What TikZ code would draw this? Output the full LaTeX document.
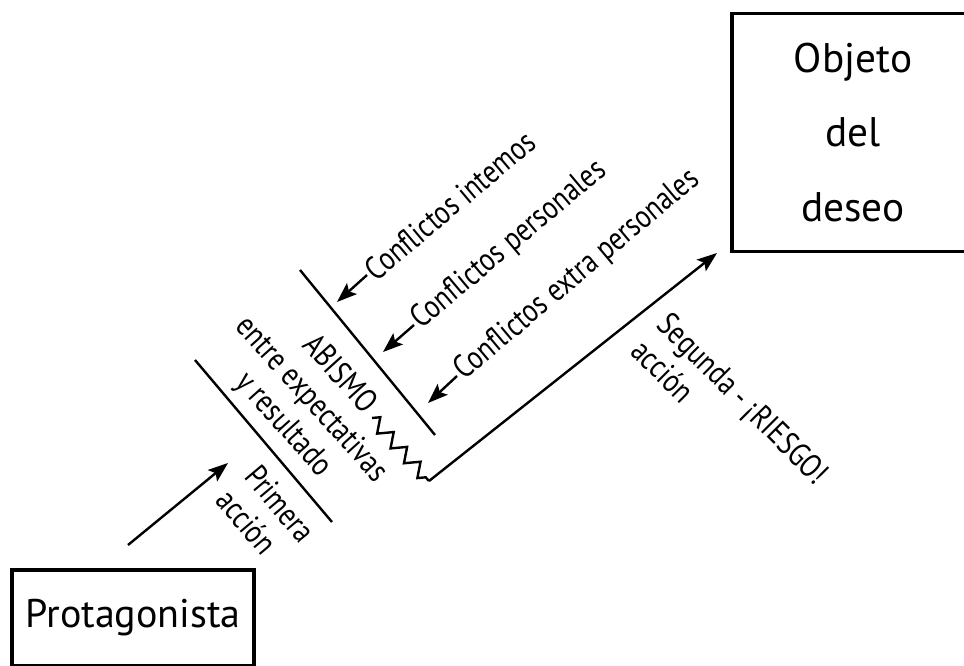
\documentclass[tikz,border=0pt]{standalone}
\usepackage{fontspec}
\setmainfont{PT Sans}
\newfontfamily\narrowfont[FakeStretch=0.82]{PT Sans}
\usetikzlibrary{arrows.meta,decorations.pathmorphing}

\begin{document}
\begin{tikzpicture}[x=0.75pt, y=-0.75pt, line width=1.8pt,
	>={Stealth[length=15pt, width=11pt, inset=3pt]},
	box/.style={draw, line width=2.3pt, minimum width=181.5pt, inner sep=0pt},
	lbl/.style={font=\narrowfont\fontsize{24.5}{28}\selectfont, inner sep=1pt}]
	\useasboundingbox (0,0) rectangle (964,666);
	% boxes
	\node[box, minimum height=72pt, font=\fontsize{30}{34}\selectfont] (prota) at (133,618) {Protagonista};
	\node[box, minimum height=179pt, align=center, font=\fontsize{31}{56}\selectfont] (objeto) at (853,132.5) {Objeto\\del\\deseo};
	% first action
	\coordinate (pa1) at (128,545);
	\coordinate (pa2) at (228,463);
	\draw[->] (pa1) -- (pa2);
	\draw (195,360) -- (332,522);
	\node[lbl, rotate=-50, anchor=west, align=left] (primera) at (236,480) {Primera\\acción};
	% gap
	\node[lbl, rotate=-48, align=center] (abismo) at (311,400) {ABISMO\\entre expectativas\\y resultado};
	\draw (300,270) -- (435,435);
	% conflicts
	\foreach \n/\tx/\ty/\hx/\hy/\txt in {int/365/277/337/302/{Conflictos intemos},
		per/412/327/383/352/{Conflictos personales},
		ext/455/378/428/403/{Conflictos extra personales}} {
		\coordinate (\n-tip) at (\hx,\hy);
		\node[lbl, rotate=40, anchor=west] (\n) at (\tx+2,\ty-2) {\txt};
		\draw[->] (\n.west) -- (\n-tip);
	}
	% second action
	\coordinate (zz1) at (372,418);
	\coordinate (zz2) at (429,481);
	\coordinate (sa2) at (717,253);
	\draw[decorate, decoration={zigzag, segment length=15pt, amplitude=5pt}] (zz1) -- (zz2);
	\draw[->] (zz2) -- (sa2);
	\node[lbl, rotate=-45, anchor=west, align=left] (segunda) at (649,330) {Segunda - ¡RIESGO!\\acción};
\end{tikzpicture}
\end{document}
